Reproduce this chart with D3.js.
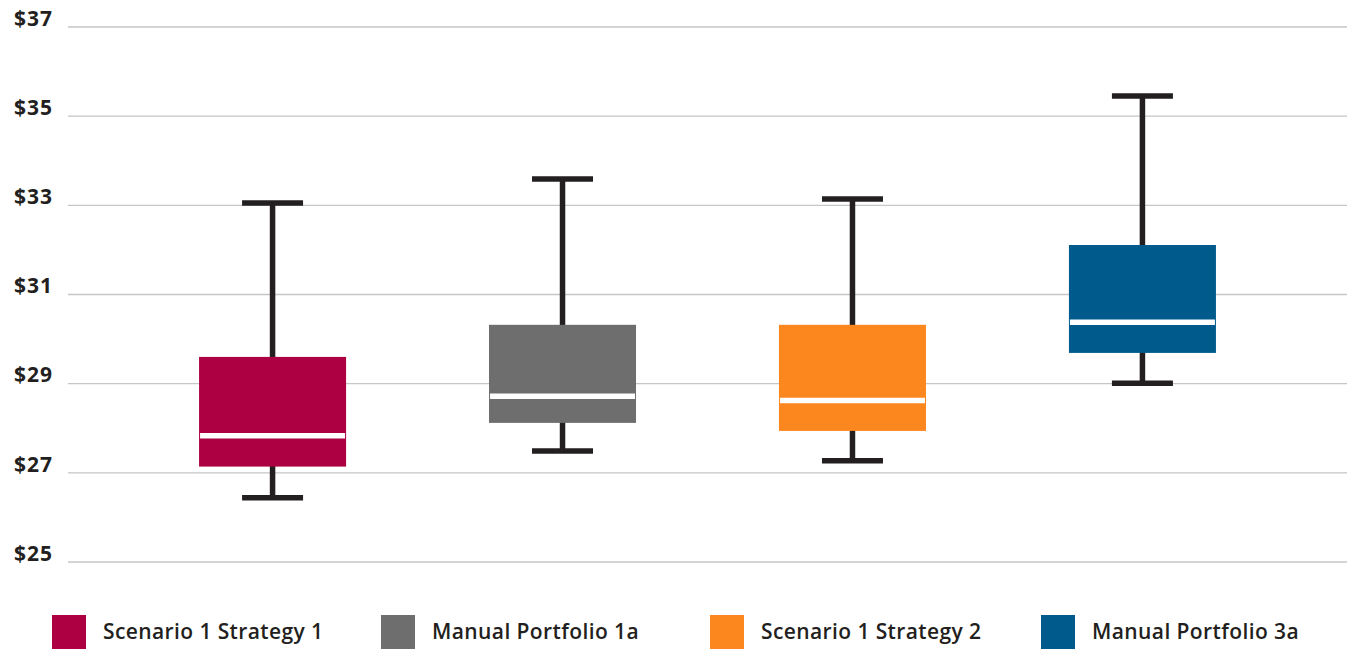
<!DOCTYPE html>
<html>
<head>
<meta charset="utf-8">
<script src="https://cdn.jsdelivr.net/npm/d3@7"></script>
<style>
  html, body { margin: 0; padding: 0; background: #fff; }
  svg { display: block; font-family: "Open Sans", Lato, sans-serif; }
</style>
</head>
<body>
<svg id="chart" width="1347" height="649"></svg>
<script>
// Portfolio value distributions (box plot statistics, in dollars)
const categories = ["Scenario 1 Strategy 1", "Manual Portfolio 1a", "Scenario 1 Strategy 2", "Manual Portfolio 3a"];
const colors = ["#ad0043", "#6e6e6e", "#fd871f", "#005a8c"];
const lowerWhisker = [26.44, 27.49, 27.27, 29.01];
const q1 = [27.14, 28.12, 27.94, 29.69];
const median = [27.83, 28.72, 28.62, 30.38];
const q3 = [29.60, 30.32, 30.32, 32.11];
const upperWhisker = [33.05, 33.59, 33.14, 35.45];
const yTicks = [25, 27, 29, 31, 33, 35, 37];

const svg = d3.select("#chart");
const plotLeft = 68, plotRight = 1347;

const x = d3.scaleBand()
  .domain(categories)
  .range([plotLeft, plotRight])
  .paddingInner(0.493)
  .paddingOuter(0.452);

const y = d3.scaleLinear()
  .domain([25, 37])
  .range([562, 27]);

// Horizontal gridlines
svg.append("g")
  .selectAll("line")
  .data(yTicks)
  .join("line")
  .attr("x1", plotLeft)
  .attr("x2", plotRight)
  .attr("y1", d => y(d))
  .attr("y2", d => y(d))
  .attr("stroke", "#c6c6c6")
  .attr("stroke-width", 1.3);

// Y axis labels
const yAxis = d3.axisLeft(y).tickValues(yTicks).tickSize(0).tickPadding(0)
  .tickFormat(d => "$" + d);
svg.append("g")
  .attr("transform", "translate(53,0)")
  .call(yAxis)
  .call(g => g.select(".domain").remove())
  .call(g => g.selectAll("text")
    .attr("dy", "-0.08em")
    .attr("font-family", "'Open Sans', Lato, sans-serif")
    .attr("font-size", 21)
    .attr("font-weight", 700)
    .attr("letter-spacing", "1px")
    .attr("fill", "#231f20"));

const rows = categories.map((c, i) => ({
  name: c, color: colors[i], lo: lowerWhisker[i], q1: q1[i],
  med: median[i], q3: q3[i], hi: upperWhisker[i]
}));

const capW = 61;
const boxes = svg.append("g")
  .selectAll("g")
  .data(rows)
  .join("g")
  .attr("transform", d => `translate(${x(d.name)},0)`);

const bw = x.bandwidth();

// Whisker stems
boxes.append("line")
  .attr("x1", bw / 2).attr("x2", bw / 2)
  .attr("y1", d => y(d.lo)).attr("y2", d => y(d.hi))
  .attr("stroke", "#231f20").attr("stroke-width", 5.5);

// Whisker caps
boxes.selectAll("line.cap")
  .data(d => [d.lo, d.hi])
  .join("line")
  .attr("class", "cap")
  .attr("x1", bw / 2 - capW / 2).attr("x2", bw / 2 + capW / 2)
  .attr("y1", d => y(d)).attr("y2", d => y(d))
  .attr("stroke", "#231f20").attr("stroke-width", 5.5);

// Interquartile boxes
boxes.append("rect")
  .attr("x", 0)
  .attr("width", bw)
  .attr("y", d => y(d.q3))
  .attr("height", d => y(d.q1) - y(d.q3))
  .attr("fill", d => d.color);

// Median lines
boxes.append("line")
  .attr("x1", 1).attr("x2", bw - 1)
  .attr("y1", d => y(d.med)).attr("y2", d => y(d.med))
  .attr("stroke", "#fff").attr("stroke-width", 5.5);

// Legend
const legendX = [52, 381, 710, 1041];
const legend = svg.append("g")
  .selectAll("g")
  .data(rows)
  .join("g")
  .attr("transform", (d, i) => `translate(${legendX[i]},615)`);

legend.append("rect")
  .attr("width", 34).attr("height", 34)
  .attr("fill", d => d.color);

legend.append("text")
  .attr("x", 51)
  .attr("y", 17)
  .attr("dy", "0.35em")
  .attr("font-size", 21)
  .attr("font-weight", 600)
  .attr("letter-spacing", "0.4px")
  .attr("fill", "#231f20")
  .text(d => d.name);
</script>
</body>
</html>
